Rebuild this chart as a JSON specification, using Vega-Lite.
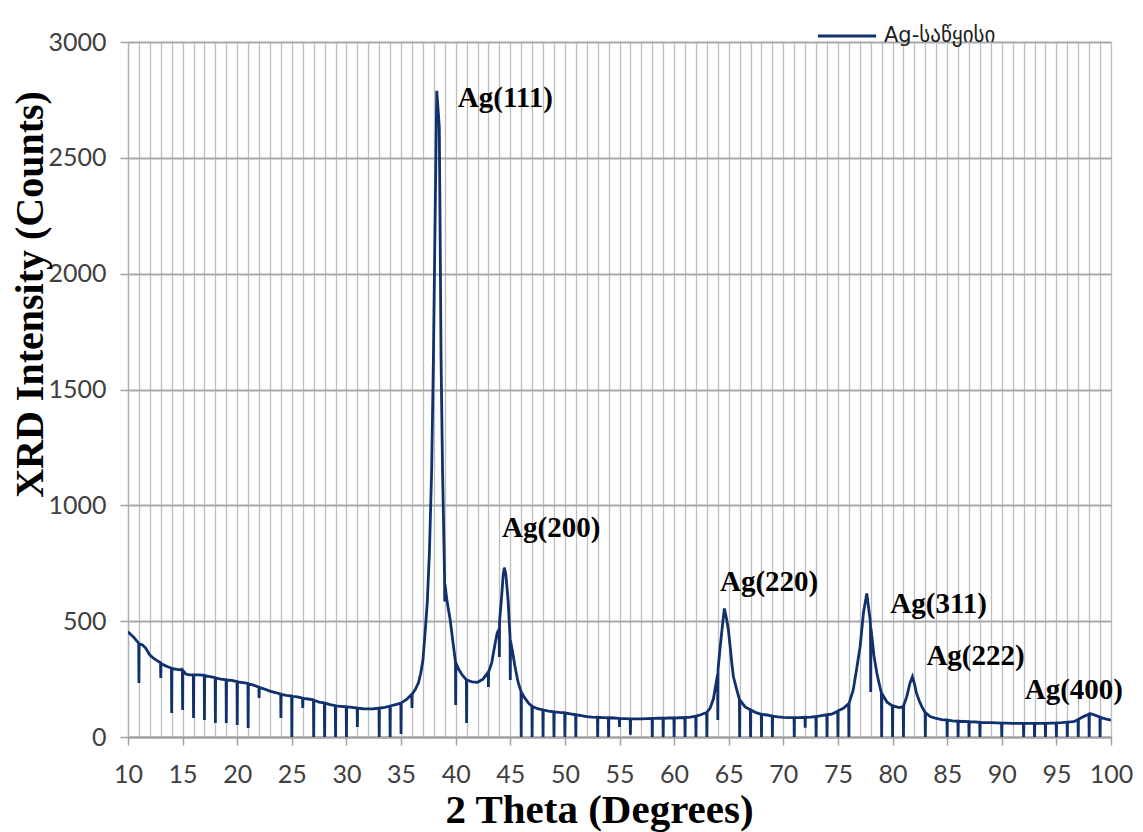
{
  "$schema": "https://vega.github.io/schema/vega-lite/v6.json",
  "width": 983,
  "height": 695,
  "autosize": {"type": "none"},
  "padding": {"left": 128, "top": 42, "right": 32, "bottom": 95},
  "background": "white",
  "config": {"view": {"stroke": null}},
  "encoding": {
    "x": {
      "field": "x", "type": "quantitative",
      "scale": {"domain": [10, 100], "nice": false, "zero": false},
      "axis": {
        "values": [10,11,12,13,14,15,16,17,18,19,20,21,22,23,24,25,26,27,28,29,30,31,32,33,34,35,36,37,38,39,40,41,42,43,44,45,46,47,48,49,50,51,52,53,54,55,56,57,58,59,60,61,62,63,64,65,66,67,68,69,70,71,72,73,74,75,76,77,78,79,80,81,82,83,84,85,86,87,88,89,90,91,92,93,94,95,96,97,98,99,100],
        "format": "d",
        "labelExpr": "datum.value % 5 === 0 ? datum.label : ''",
        "labelOverlap": false,
        "labelFlush": false,
        "labelFont": "Lato",
        "labelFontSize": 25,
        "labelColor": "#404040",
        "labelPadding": 17,
        "tickSize": 8,
        "tickColor": {"condition": {"test": "datum.value % 5 === 0", "value": "#a0a0a0"}, "value": "transparent"},
        "tickWidth": 1.5,
        "grid": true,
        "gridColor": "#bdbdbd",
        "gridWidth": 1.3,
        "domainColor": "#a0a0a0",
        "domainWidth": 1.8,
        "title": "2 Theta (Degrees)",
        "titleFont": "Liberation Serif",
        "titleFontWeight": "bold",
        "titleFontSize": 41,
        "titleColor": "#000000",
        "titleAlign": "center",
        "titleBaseline": "middle",
        "titleX": 471,
        "titleY": 73
      }
    },
    "y": {
      "field": "y", "type": "quantitative",
      "scale": {"domain": [0, 3000], "nice": false},
      "axis": {
        "values": [0, 500, 1000, 1500, 2000, 2500, 3000],
        "format": "d",
        "labelFont": "Lato",
        "labelFontSize": 25,
        "labelColor": "#404040",
        "labelPadding": 14,
        "tickSize": 8,
        "tickColor": "#a0a0a0",
        "tickWidth": 1.5,
        "grid": true,
        "gridColor": "#a8a8a8",
        "gridWidth": 1.8,
        "domainColor": "#b0b0b0",
        "domainWidth": 1.3,
        "title": "XRD Intensity (Counts)",
        "titleFont": "Liberation Serif",
        "titleFontWeight": "bold",
        "titleFontSize": 40,
        "titleColor": "#000000",
        "titleAngle": -90,
        "titleAlign": "center",
        "titleBaseline": "middle",
        "titleX": -98,
        "titleY": 252
      }
    }
  },
  "layer": [
    {
      "data": {"values": [
        {"x":10,"y":455},{"x":10.2,"y":445},{"x":10.5,"y":432},{"x":10.8,"y":415},{"x":10.98,"y":405},{"x":11,"y":233},{"x":11.02,"y":402},{"x":11.3,"y":398},{"x":11.6,"y":385},{"x":12,"y":354},{"x":12.3,"y":342},{"x":12.6,"y":332},{"x":12.98,"y":320},{"x":13,"y":255},{"x":13.02,"y":318},{"x":13.4,"y":308},{"x":13.7,"y":302},{"x":13.98,"y":297},{"x":14,"y":104},{"x":14.02,"y":296},{"x":14.5,"y":292},{"x":14.98,"y":289},{"x":15,"y":117},{"x":15.02,"y":287},{"x":15.3,"y":272},{"x":15.6,"y":268},{"x":15.98,"y":268},{"x":16,"y":82},{"x":16.02,"y":268},{"x":16.5,"y":268},{"x":16.98,"y":266},{"x":17,"y":73},{"x":17.02,"y":265},{"x":17.5,"y":261},{"x":17.98,"y":256},{"x":18,"y":60},{"x":18.02,"y":255},{"x":18.5,"y":250},{"x":18.98,"y":247},{"x":19,"y":60},{"x":19.02,"y":246},{"x":19.5,"y":244},{"x":19.98,"y":239},{"x":20,"y":52},{"x":20.02,"y":238},{"x":20.5,"y":235},{"x":20.98,"y":231},{"x":21,"y":39},{"x":21.02,"y":230},{"x":21.5,"y":224},{"x":21.98,"y":215},{"x":22,"y":168},{"x":22.02,"y":214},{"x":22.5,"y":207},{"x":23,"y":198},{"x":23.5,"y":192},{"x":23.98,"y":185},{"x":24,"y":82},{"x":24.02,"y":184},{"x":24.5,"y":180},{"x":24.98,"y":177},{"x":25,"y":0},{"x":25.02,"y":176},{"x":25.5,"y":173},{"x":25.98,"y":168},{"x":26,"y":125},{"x":26.02,"y":167},{"x":26.5,"y":164},{"x":26.98,"y":160},{"x":27,"y":0},{"x":27.02,"y":159},{"x":27.5,"y":151},{"x":27.98,"y":147},{"x":28,"y":0},{"x":28.02,"y":146},{"x":28.5,"y":140},{"x":28.98,"y":135},{"x":29,"y":0},{"x":29.02,"y":134},{"x":29.5,"y":132},{"x":29.98,"y":130},{"x":30,"y":0},{"x":30.02,"y":130},{"x":30.5,"y":128},{"x":30.98,"y":125},{"x":31,"y":43},{"x":31.02,"y":125},{"x":31.5,"y":122},{"x":32,"y":121},{"x":32.5,"y":122},{"x":32.98,"y":125},{"x":33,"y":0},{"x":33.02,"y":125},{"x":33.5,"y":128},{"x":33.98,"y":133},{"x":34,"y":0},{"x":34.02,"y":134},{"x":34.5,"y":140},{"x":34.98,"y":146},{"x":35,"y":13},{"x":35.02,"y":147},{"x":35.5,"y":162},{"x":35.98,"y":184},{"x":36,"y":125},{"x":36.02,"y":186},{"x":36.3,"y":205},{"x":36.6,"y":235},{"x":36.8,"y":275},{"x":37,"y":330},{"x":37.2,"y":450},{"x":37.4,"y":580},{"x":37.6,"y":800},{"x":37.8,"y":1150},{"x":37.96,"y":1627},{"x":38.11,"y":2203},{"x":38.27,"y":2789},{"x":38.5,"y":2635},{"x":38.57,"y":2232},{"x":38.66,"y":1642},{"x":38.8,"y":1150},{"x":38.98,"y":700},{"x":39,"y":585},{"x":39.02,"y":660},{"x":39.2,"y":590},{"x":39.5,"y":505},{"x":39.76,"y":406},{"x":39.98,"y":325},{"x":40,"y":138},{"x":40.02,"y":320},{"x":40.3,"y":290},{"x":40.6,"y":268},{"x":40.98,"y":247},{"x":41,"y":60},{"x":41.02,"y":246},{"x":41.5,"y":238},{"x":42,"y":236},{"x":42.5,"y":250},{"x":42.98,"y":280},{"x":43,"y":216},{"x":43.02,"y":282},{"x":43.3,"y":320},{"x":43.6,"y":400},{"x":43.8,"y":449},{"x":43.98,"y":465},{"x":44,"y":345},{"x":44.02,"y":500},{"x":44.2,"y":600},{"x":44.35,"y":700},{"x":44.46,"y":731},{"x":44.6,"y":700},{"x":44.8,"y":591},{"x":44.98,"y":430},{"x":45,"y":246},{"x":45.02,"y":415},{"x":45.2,"y":370},{"x":45.44,"y":302},{"x":45.7,"y":240},{"x":45.98,"y":196},{"x":46,"y":0},{"x":46.02,"y":194},{"x":46.3,"y":170},{"x":46.66,"y":147},{"x":46.98,"y":133},{"x":47,"y":0},{"x":47.02,"y":132},{"x":47.5,"y":122},{"x":47.98,"y":117},{"x":48,"y":0},{"x":48.02,"y":117},{"x":48.5,"y":112},{"x":48.98,"y":109},{"x":49,"y":0},{"x":49.02,"y":109},{"x":49.5,"y":106},{"x":49.98,"y":104},{"x":50,"y":0},{"x":50.02,"y":104},{"x":50.5,"y":100},{"x":50.98,"y":96},{"x":51,"y":0},{"x":51.02,"y":96},{"x":51.5,"y":92},{"x":52,"y":88},{"x":52.5,"y":86},{"x":52.98,"y":85},{"x":53,"y":0},{"x":53.02,"y":85},{"x":53.5,"y":84},{"x":53.98,"y":83},{"x":54,"y":0},{"x":54.02,"y":83},{"x":54.5,"y":82},{"x":54.98,"y":80},{"x":55,"y":43},{"x":55.02,"y":80},{"x":55.5,"y":79},{"x":55.98,"y":78},{"x":56,"y":10},{"x":56.02,"y":78},{"x":56.5,"y":78},{"x":57,"y":78},{"x":57.5,"y":79},{"x":57.98,"y":80},{"x":58,"y":0},{"x":58.02,"y":80},{"x":58.5,"y":81},{"x":58.98,"y":81},{"x":59,"y":0},{"x":59.02,"y":81},{"x":59.5,"y":82},{"x":59.98,"y":82},{"x":60,"y":0},{"x":60.02,"y":82},{"x":60.5,"y":83},{"x":60.98,"y":84},{"x":61,"y":0},{"x":61.02,"y":84},{"x":61.5,"y":86},{"x":61.98,"y":90},{"x":62,"y":0},{"x":62.02,"y":90},{"x":62.5,"y":97},{"x":62.98,"y":106},{"x":63,"y":0},{"x":63.02,"y":107},{"x":63.3,"y":125},{"x":63.6,"y":165},{"x":63.98,"y":270},{"x":64,"y":73},{"x":64.02,"y":290},{"x":64.2,"y":380},{"x":64.4,"y":470},{"x":64.6,"y":555},{"x":64.8,"y":510},{"x":64.97,"y":462},{"x":65.13,"y":390},{"x":65.28,"y":319},{"x":65.43,"y":260},{"x":65.74,"y":203},{"x":65.98,"y":162},{"x":66,"y":0},{"x":66.02,"y":160},{"x":66.5,"y":130},{"x":66.98,"y":117},{"x":67,"y":0},{"x":67.02,"y":117},{"x":67.5,"y":105},{"x":67.98,"y":98},{"x":68,"y":0},{"x":68.02,"y":98},{"x":68.5,"y":95},{"x":68.98,"y":90},{"x":69,"y":0},{"x":69.02,"y":90},{"x":69.5,"y":87},{"x":70,"y":85},{"x":70.5,"y":84},{"x":70.98,"y":84},{"x":71,"y":0},{"x":71.02,"y":84},{"x":71.5,"y":84},{"x":71.98,"y":85},{"x":72,"y":40},{"x":72.02,"y":85},{"x":72.5,"y":86},{"x":72.98,"y":88},{"x":73,"y":0},{"x":73.02,"y":88},{"x":73.5,"y":92},{"x":73.98,"y":96},{"x":74,"y":0},{"x":74.02,"y":96},{"x":74.5,"y":100},{"x":74.98,"y":111},{"x":75,"y":0},{"x":75.02,"y":113},{"x":75.5,"y":124},{"x":75.98,"y":144},{"x":76,"y":0},{"x":76.02,"y":146},{"x":76.4,"y":203},{"x":76.7,"y":290},{"x":77.03,"y":390},{"x":77.33,"y":534},{"x":77.64,"y":620},{"x":77.95,"y":505},{"x":77.98,"y":480},{"x":78,"y":194},{"x":78.02,"y":470},{"x":78.3,"y":350},{"x":78.56,"y":276},{"x":78.85,"y":215},{"x":78.98,"y":190},{"x":79,"y":0},{"x":79.02,"y":188},{"x":79.5,"y":150},{"x":79.98,"y":135},{"x":80,"y":0},{"x":80.02,"y":135},{"x":80.5,"y":128},{"x":80.85,"y":128},{"x":80.98,"y":134},{"x":81,"y":0},{"x":81.02,"y":136},{"x":81.3,"y":174},{"x":81.6,"y":233},{"x":81.82,"y":260},{"x":82,"y":230},{"x":82.2,"y":188},{"x":82.45,"y":155},{"x":82.68,"y":131},{"x":82.98,"y":106},{"x":83,"y":0},{"x":83.02,"y":105},{"x":83.44,"y":88},{"x":84,"y":80},{"x":84.5,"y":75},{"x":84.98,"y":73},{"x":85,"y":0},{"x":85.02,"y":73},{"x":85.5,"y":70},{"x":85.98,"y":68},{"x":86,"y":0},{"x":86.02,"y":68},{"x":86.5,"y":67},{"x":86.98,"y":66},{"x":87,"y":0},{"x":87.02,"y":66},{"x":87.5,"y":65},{"x":87.98,"y":63},{"x":88,"y":0},{"x":88.02,"y":63},{"x":88.5,"y":62},{"x":89,"y":62},{"x":89.5,"y":61},{"x":89.98,"y":60},{"x":90,"y":0},{"x":90.02,"y":60},{"x":90.5,"y":60},{"x":91,"y":59},{"x":91.5,"y":59},{"x":91.98,"y":59},{"x":92,"y":0},{"x":92.02,"y":59},{"x":92.5,"y":59},{"x":92.98,"y":59},{"x":93,"y":0},{"x":93.02,"y":59},{"x":93.5,"y":59},{"x":93.98,"y":59},{"x":94,"y":0},{"x":94.02,"y":59},{"x":94.5,"y":60},{"x":94.98,"y":61},{"x":95,"y":0},{"x":95.02,"y":61},{"x":95.5,"y":62},{"x":95.98,"y":64},{"x":96,"y":0},{"x":96.02,"y":64},{"x":96.57,"y":66},{"x":96.98,"y":75},{"x":97,"y":0},{"x":97.02,"y":76},{"x":97.48,"y":88},{"x":97.98,"y":99},{"x":98,"y":0},{"x":98.02,"y":99},{"x":98.2,"y":100},{"x":98.5,"y":95},{"x":98.98,"y":86},{"x":99,"y":0},{"x":99.02,"y":85},{"x":99.5,"y":78},{"x":100,"y":73}
      ]},
      "mark": {"type": "line", "strokeWidth": 2.8, "clip": true},
      "encoding": {
        "color": {
          "datum": "Ag-საწყისი",
          "type": "nominal",
          "scale": {"range": ["#10306e"]},
          "legend": {
            "title": null,
            "orient": "none",
            "legendX": 688,
            "legendY": -37,
            "symbolType": "stroke",
            "symbolSize": 3400,
            "symbolStrokeWidth": 3,
            "labelFont": "DejaVu Sans",
            "labelFontSize": 21,
            "labelColor": "#202020",
            "labelOffset": 6
          }
        }
      }
    },
    {
      "data": {"values": [
        {"x": 40.2, "y": 2758, "label": "Ag(111)"},
        {"x": 44.25, "y": 902, "label": "Ag(200)"},
        {"x": 64.2, "y": 669, "label": "Ag(220)"},
        {"x": 79.8, "y": 574, "label": "Ag(311)"},
        {"x": 83.1, "y": 350, "label": "Ag(222)"},
        {"x": 92.1, "y": 203, "label": "Ag(400)"}
      ]},
      "mark": {"type": "text", "align": "left", "baseline": "middle", "font": "Liberation Serif", "fontWeight": "bold", "fontSize": 29, "color": "#000000"},
      "encoding": {
        "text": {"field": "label"}
      }
    }
  ]
}
